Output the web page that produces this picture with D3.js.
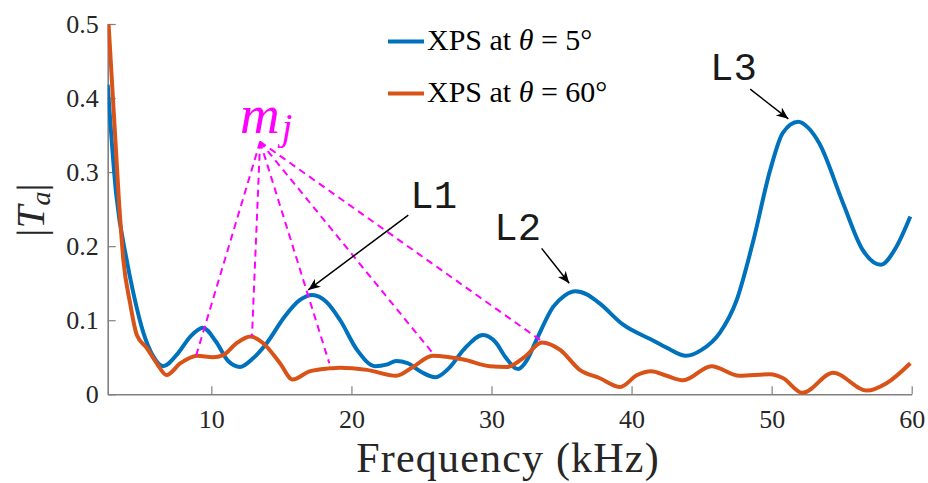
<!DOCTYPE html>
<html>
<head>
<meta charset="utf-8">
<title>XPS |Ta|</title>
<script src="https://cdn.jsdelivr.net/npm/d3@7/dist/d3.min.js"></script>
<style>
body { margin: 0; background: #fff; }
svg { display: block; font-family: "Liberation Serif", "Times New Roman", serif; }
</style>
</head>
<body>
<svg id="chart"></svg>
<script>
var w = 928;
var h = 483;

// 曲线数据 (kHz, |Ta|)
var freqBlue = [2.6, 3.2, 3.96, 4.43, 5.15, 5.86, 6.56, 7.6, 8.5, 9.4, 10.3, 11.2, 12.05, 13.0, 13.95,
	15.2, 16.3, 17.2, 18.2, 19.2, 20.4, 21.7, 22.5, 23.2, 24.0, 25.0, 26.0, 27.0, 28.0, 29.4, 30.3,
	31.0, 31.9, 32.5, 33.2, 34.4, 35.2, 36.0, 36.8, 37.7, 39.4, 41.5, 42.5, 43.9, 45.0, 46.3, 47.5,
	48.7, 49.9, 50.8, 51.9, 52.6, 53.4, 55.1, 56.5, 57.8, 58.9, 59.9];
var magBlue = [0.418, 0.271, 0.181, 0.137, 0.083, 0.051, 0.038, 0.055, 0.078, 0.090, 0.072, 0.045, 0.037, 0.049, 0.069,
	0.104, 0.127, 0.134, 0.125, 0.100, 0.060, 0.038, 0.040, 0.045, 0.042, 0.030, 0.023, 0.036, 0.060, 0.080, 0.070,
	0.050, 0.034, 0.045, 0.073, 0.118, 0.133, 0.139, 0.135, 0.123, 0.094, 0.073, 0.063, 0.052, 0.060, 0.083, 0.127,
	0.208, 0.303, 0.353, 0.368, 0.360, 0.339, 0.258, 0.195, 0.175, 0.199, 0.240];

var freqRed = [2.6, 3.4, 3.72, 4.2, 4.68, 5.39, 6.1, 6.8, 7.8, 9.0, 10.1, 10.85, 11.8, 12.8, 13.7,
	14.9, 15.8, 17.0, 18.4, 19.2, 21.1, 23.2, 24.4, 25.8, 27.0, 28.0, 29.9, 31.1, 32.4, 33.6, 34.9,
	36.3, 37.7, 39.2, 40.4, 41.4, 42.5, 43.7, 45.7, 47.7, 49.9, 50.8, 52.2, 54.4, 56.8, 58.2, 59.9];
var magRed = [0.52, 0.262, 0.181, 0.123, 0.080, 0.0625, 0.042, 0.026, 0.042, 0.052, 0.050, 0.053, 0.069, 0.078, 0.069,
	0.042, 0.020, 0.031, 0.035, 0.036, 0.033, 0.025, 0.037, 0.052, 0.050, 0.047, 0.038, 0.037, 0.051, 0.070, 0.060,
	0.033, 0.022, 0.010, 0.026, 0.031, 0.025, 0.019, 0.038, 0.025, 0.027, 0.022, 0.002, 0.029, 0.005, 0.015, 0.042];

var xTicks = [10, 20, 30, 40, 50, 60];
var yTicks = [0, 0.1, 0.2, 0.3, 0.4, 0.5];
var seriesNames = ["5", "60"];

// m_j 虚线: 起点 + 各终点 (数据坐标)
var mjApex = [13.48, 0.341];
var mjEnds = [[8.91, 0.052], [12.9, 0.078], [18.42, 0.042], [25.83, 0.055], [33.8, 0.069]];
var mjLabel = [12.05, 0.353];

// 箭头标注
var arrowLabels = ["L1", "L2", "L3"];
var arrowText = [[24.2, 0.252], [30.2, 0.208], [45.6, 0.424]];
var arrowTail = [[24.06, 0.242], [33.58, 0.197], [48.47, 0.412]];
var arrowHead = [[16.92, 0.141], [35.55, 0.150], [51.19, 0.372]];

var cBlue = "#0072BD";
var cRed = "#D95319";

var x = d3.scaleLinear().domain([2.6, 60]).range([107.7, 911.7]);
var y = d3.scaleLinear().domain([0, 0.5]).range([394.3, 24]);

var svg = d3.select("#chart").attr("width", w).attr("height", h);

var defs = svg.append("defs");
defs.append("clipPath").attr("id", "plot-clip")
	.append("rect")
	.attr("x", x.range()[0]).attr("y", y.range()[1])
	.attr("width", x.range()[1] - x.range()[0] + 4)
	.attr("height", y.range()[0] - y.range()[1] + 4);
defs.append("marker")
	.attr("id", "arrow")
	.attr("markerUnits", "userSpaceOnUse")
	.attr("markerWidth", 14).attr("markerHeight", 14)
	.attr("viewBox", "-12 -7 14 14")
	.attr("refX", 0).attr("refY", 0)
	.attr("orient", "auto")
	.append("path")
	.attr("d", "M0,0 L-12,-5 L-8.5,0 L-12,5 Z")
	.attr("fill", "#000");

// 坐标轴
var gx = svg.append("g")
	.attr("transform", "translate(0," + y(0) + ")")
	.call(d3.axisBottom(x).tickValues(xTicks).tickSizeInner(-8).tickSizeOuter(0).tickPadding(15));
var gy = svg.append("g")
	.attr("transform", "translate(" + x(2.6) + ",0)")
	.call(d3.axisLeft(y).tickValues(yTicks).tickSizeInner(-8).tickSizeOuter(0).tickPadding(9)
		.tickFormat(function(d) { return d === 0 ? "0" : d3.format(".1f")(d); }));

[gx, gy].forEach(function(g) {
	g.select(".domain").attr("stroke", "#808080").attr("stroke-width", 1.6);
	g.selectAll(".tick line").attr("stroke", "#808080").attr("stroke-width", 1.2);
	g.selectAll(".tick text")
		.attr("fill", "#262626")
		.style("font-family", "'Liberation Serif', serif")
		.style("font-size", "26px");
});

// 曲线
var line = d3.line()
	.x(function(d) { return x(d[0]); })
	.y(function(d) { return y(d[1]); })
	.curve(d3.curveMonotoneX);

var plot = svg.append("g").attr("clip-path", "url(#plot-clip)");
var series = [
	{ color: cBlue, pts: d3.zip(freqBlue, magBlue) },
	{ color: cRed, pts: d3.zip(freqRed, magRed) }
];

// m_j 虚线 (先画, 在曲线下面)
var gm = svg.append("g");
gm.selectAll("line.mj")
	.data(mjEnds)
	.enter().append("line")
	.attr("class", "mj")
	.attr("x1", x(mjApex[0])).attr("y1", y(mjApex[1]))
	.attr("x2", function(d) { return x(d[0]); })
	.attr("y2", function(d) { return y(d[1]); })
	.attr("stroke", "#FF00FF")
	.attr("stroke-width", 2)
	.attr("stroke-dasharray", "7,5");

plot.selectAll("path.series")
	.data(series)
	.enter().append("path")
	.attr("class", "series")
	.attr("d", function(d) { return line(d.pts); })
	.attr("fill", "none")
	.attr("stroke", function(d) { return d.color; })
	.attr("stroke-width", 4)
	.attr("stroke-linejoin", "round");

var mt = svg.append("text")
	.attr("x", x(mjLabel[0])).attr("y", y(mjLabel[1]))
	.attr("fill", "#FF00FF")
	.style("font-style", "italic");
mt.append("tspan").style("font-size", "55px").text("m");
mt.append("tspan").attr("dy", 7).attr("dx", 2).style("font-size", "38px").text("j");

// 箭头
var ga = svg.append("g");
ga.selectAll("line.arr")
	.data(arrowTail)
	.enter().append("line")
	.attr("class", "arr")
	.attr("x1", function(d) { return x(d[0]); })
	.attr("y1", function(d) { return y(d[1]); })
	.attr("x2", function(d, i) { return x(arrowHead[i][0]); })
	.attr("y2", function(d, i) { return y(arrowHead[i][1]); })
	.attr("stroke", "#000")
	.attr("stroke-width", 1.5)
	.attr("marker-end", "url(#arrow)");
ga.selectAll("text")
	.data(arrowLabels)
	.enter().append("text")
	.attr("x", function(d, i) { return x(arrowText[i][0]); })
	.attr("y", function(d, i) { return y(arrowText[i][1]); })
	.attr("fill", "#1a1a1a")
	.style("font-family", "'Liberation Mono', 'DejaVu Sans Mono', monospace")
	.style("font-size", "39px")
	.text(function(d) { return d; });

// 图例
var lg = svg.append("g");
seriesNames.forEach(function(s, i) {
	var yy = 41.5 + i * 52;
	lg.append("line")
		.attr("x1", 388).attr("x2", 424).attr("y1", yy).attr("y2", yy)
		.attr("stroke", series[i].color).attr("stroke-width", 4);
	var t = lg.append("text").attr("x", 427).attr("y", yy + 8.5)
		.attr("fill", "#000").style("font-size", "30px");
	t.append("tspan").text("XPS at ");
	t.append("tspan").style("font-style", "italic").text("θ");
	t.append("tspan").text(" = " + s + "°");
});

// 轴标题
svg.append("text")
	.attr("x", 508).attr("y", 472)
	.attr("text-anchor", "middle")
	.attr("fill", "#262626")
	.style("font-size", "42px")
	.style("letter-spacing", "1.2px")
	.text("Frequency (kHz)");

var yl = svg.append("text")
	.attr("transform", "translate(44,210) rotate(-90)")
	.attr("text-anchor", "middle")
	.attr("fill", "#262626")
	.style("font-size", "41px");
yl.append("tspan").text("|");
yl.append("tspan").style("font-style", "italic").text("T");
yl.append("tspan").style("font-style", "italic").style("font-size", "28px").attr("dy", 6).text("a");
yl.append("tspan").attr("dy", -6).text("|");
</script>
</body>
</html>
